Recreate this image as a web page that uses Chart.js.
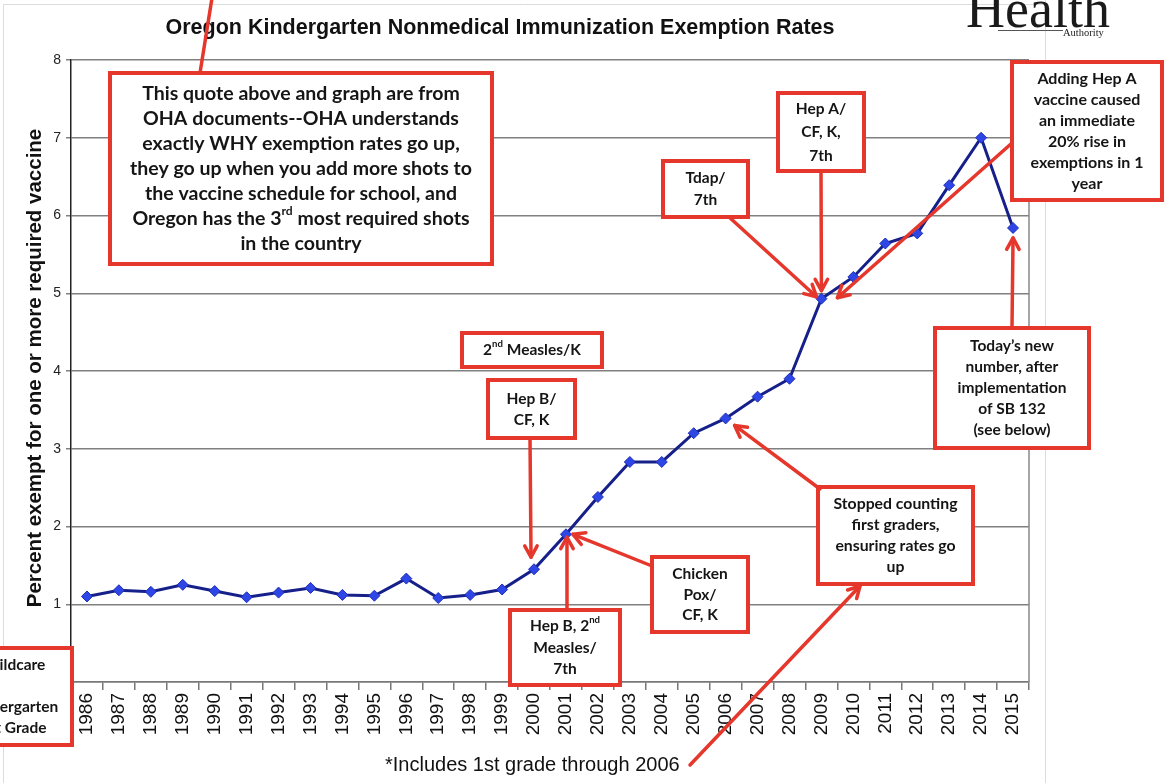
<!DOCTYPE html>
<html>
<head>
<meta charset="utf-8">
<script src="https://cdn.jsdelivr.net/npm/chart.js@4.4.1/dist/chart.umd.min.js"></script>
<style>
  html, body { margin: 0; padding: 0; background: #fff; }
  #wrap { width: 1165px; height: 783px; position: relative; }
</style>
</head>
<body>
<div id="wrap"><canvas id="grafico"></canvas></div>
<script>
// ==========================
// DATA
// ==========================
const years = ['1986', '1987', '1988', '1989', '1990', '1991', '1992', '1993', '1994', '1995',
  '1996', '1997', '1998', '1999', '2000', '2001', '2002', '2003', '2004', '2005',
  '2006', '2007', '2008', '2009', '2010', '2011', '2012', '2013', '2014', '2015'];
const exemptRates = [1.10, 1.18, 1.16, 1.25, 1.17, 1.09, 1.15, 1.21, 1.12, 1.11,
  1.33, 1.08, 1.12, 1.19, 1.45, 1.90, 2.38, 2.83, 2.83, 3.20,
  3.39, 3.67, 3.90, 4.93, 5.21, 5.64, 5.77, 6.39, 7.00, 5.84];
const yTicks = [0, 1, 2, 3, 4, 5, 6, 7, 8];

const chartTitle = 'Oregon Kindergarten Nonmedical Immunization Exemption Rates';
const yTitle = 'Percent exempt for one or more required vaccine';
const footnote = '*Includes 1st grade through 2006';

// annotation boxes (text with {..} = superscript); "at" anchors an arrow tip to a data point
const notes = [
  { lines: ['This quote above and graph are from', 'OHA documents--OHA understands', 'exactly WHY exemption rates go up,',
      'they go up when you add more shots to', 'the vaccine schedule for school, and', 'Oregon has the 3{rd} most required shots', 'in the country'],
    box: [110, 73, 492, 264], size: 19.5, lh: 25, line: { from: [200, 73], to: [212, -2] } },
  { lines: ['Hep A/', 'CF, K,', '7th'], box: [778, 93, 864, 171], size: 15.5, lh: 23.5,
    arrow: { from: [821, 171], at: '2009', dx: 0, dy: -8 } },
  { lines: ['Tdap/', '7th'], box: [663, 161, 748, 217], size: 15.5, lh: 22,
    arrow: { from: [729, 217], at: '2009', dx: -5, dy: -2 } },
  { lines: ['Adding Hep A', 'vaccine caused', 'an immediate', '20% rise in', 'exemptions in 1', 'year'],
    box: [1012, 62, 1162, 200], size: 16, lh: 21, arrow: { from: [1012, 143], at: '2009', dx: 16, dy: -1 } },
  { lines: ['Today\u2019s new', 'number, after', 'implementation', 'of SB 132', '(see below)'],
    box: [935, 328, 1089, 448], size: 15.5, lh: 20.8, arrow: { from: [1012, 328], at: '2015', dx: 0, dy: 10 } },
  { lines: ['Stopped counting', 'first graders,', 'ensuring rates go', 'up'],
    box: [818, 487, 973, 584], size: 15.8, lh: 20.8, arrow: { from: [820, 489], at: '2006', dx: 9, dy: 7 } },
  { lines: ['2{nd} Measles/K'], box: [462, 333, 602, 367], size: 15.5, lh: 20 },
  { lines: ['Hep B/', 'CF, K'], box: [488, 380, 575, 438], size: 15.5, lh: 21,
    arrow: { from: [530, 438], at: '2000', dx: -3, dy: -12 } },
  { lines: ['Hep B, 2{nd}', 'Measles/', '7th'], box: [510, 610, 620, 685], size: 15.5, lh: 21.5,
    arrow: { from: [567, 610], at: '2001', dx: 1, dy: 3 } },
  { lines: ['Chicken', 'Pox/', 'CF, K'], box: [652, 557, 748, 632], size: 15.5, lh: 20.8,
    arrow: { from: [652, 566], at: '2001', dx: 7, dy: 0 } },
  { lines: ['Childcare', '', 'Kindergarten', '1st Grade'], box: [-10, 648, 72, 745], size: 15.5, lh: 21, cx: 13 }
];

const RED = '#e5372b';
const boxFont = '"Lato", "Open Sans", sans-serif';

function richWidth(ctx, txt, size) {
  let w = 0;
  txt.split(/(\{[^}]*\})/).forEach(p => {
    if (!p) return;
    const sup = p[0] === '{';
    ctx.font = `bold ${sup ? size * 0.62 : size}px ${boxFont}`;
    w += ctx.measureText(sup ? p.slice(1, -1) : p).width;
  });
  return w;
}

function drawRich(ctx, txt, cx, y, size) {
  let x = cx - richWidth(ctx, txt, size) / 2;
  ctx.textAlign = 'left';
  txt.split(/(\{[^}]*\})/).forEach(p => {
    if (!p) return;
    const sup = p[0] === '{';
    const t = sup ? p.slice(1, -1) : p;
    ctx.font = `bold ${sup ? size * 0.62 : size}px ${boxFont}`;
    ctx.fillText(t, x, sup ? y - size * 0.4 : y);
    x += ctx.measureText(t).width;
  });
}

function drawArrow(ctx, x1, y1, x2, y2) {
  ctx.beginPath();
  ctx.moveTo(x1, y1);
  ctx.lineTo(x2, y2);
  ctx.stroke();
  const ang = Math.atan2(y2 - y1, x2 - x1);
  const L = 13;
  ctx.beginPath();
  ctx.moveTo(x2 - L * Math.cos(ang - 0.5), y2 - L * Math.sin(ang - 0.5));
  ctx.lineTo(x2, y2);
  ctx.lineTo(x2 - L * Math.cos(ang + 0.5), y2 - L * Math.sin(ang + 0.5));
  ctx.stroke();
}

const decoracao = {
  id: 'decoracao',
  beforeDraw(chart) {
    const ctx = chart.ctx;
    ctx.save();
    ctx.fillStyle = '#fff';
    ctx.fillRect(0, 0, chart.width, chart.height);
    // page frame
    ctx.strokeStyle = '#dcdcdc';
    ctx.lineWidth = 1;
    ctx.beginPath();
    ctx.moveTo(3.5, 783); ctx.lineTo(3.5, 4.5); ctx.lineTo(1045.5, 4.5);
    ctx.moveTo(1045.5, 0); ctx.lineTo(1045.5, 783);
    ctx.stroke();
    // logo
    ctx.fillStyle = '#1a1a1a';
    ctx.font = '54px "Liberation Serif", serif';
    ctx.textAlign = 'right';
    ctx.textBaseline = 'alphabetic';
    ctx.fillText('Health', 1110, 27);
    ctx.font = '10.5px "Liberation Serif", serif';
    ctx.textAlign = 'left';
    ctx.fillText('Authority', 1063, 36);
    ctx.strokeStyle = '#555';
    ctx.beginPath(); ctx.moveTo(998, 30.5); ctx.lineTo(1063, 30.5); ctx.stroke();
    // title
    ctx.fillStyle = '#111';
    ctx.font = 'bold 21.5px "Liberation Sans", Arial, sans-serif';
    ctx.textAlign = 'center';
    ctx.textBaseline = 'middle';
    ctx.fillText(chartTitle, 500, 28);
    // y title
    ctx.save();
    ctx.translate(35, 368);
    ctx.rotate(-Math.PI / 2);
    ctx.font = 'bold 20.5px "Liberation Sans", Arial, sans-serif';
    ctx.fillText(yTitle, 0, 0);
    ctx.restore();
    // footnote
    ctx.font = '20px "Liberation Sans", Arial, sans-serif';
    ctx.textAlign = 'left';
    ctx.fillText(footnote, 385, 765);
    ctx.restore();
  },
  beforeDatasetsDraw(chart) {
    const ctx = chart.ctx;
    const a = chart.chartArea;
    ctx.save();
    ctx.strokeStyle = '#888';
    ctx.lineWidth = 1.5;
    ctx.beginPath();
    ctx.moveTo(a.right, a.top);
    ctx.lineTo(a.right, a.bottom);
    ctx.stroke();
    ctx.restore();
  },
  afterDraw(chart) {
    const ctx = chart.ctx;
    const xs = chart.scales.x, ys = chart.scales.y;
    ctx.save();
    ctx.lineCap = 'round';
    ctx.lineJoin = 'round';
    notes.forEach(n => {
      const [x1, y1, x2, y2] = n.box;
      ctx.fillStyle = '#fff';
      ctx.fillRect(x1, y1, x2 - x1, y2 - y1);
      ctx.strokeStyle = RED;
      ctx.lineWidth = 4;
      ctx.lineJoin = 'miter';
      ctx.strokeRect(x1, y1, x2 - x1, y2 - y1);
      ctx.lineJoin = 'round';
      ctx.fillStyle = '#151515';
      ctx.textBaseline = 'middle';
      const cx = n.cx !== undefined ? n.cx : (x1 + x2) / 2;
      const top = (y1 + y2) / 2 - (n.lines.length - 1) * n.lh / 2;
      n.lines.forEach((l, i) => drawRich(ctx, l, cx, top + i * n.lh, n.size));
      ctx.lineWidth = 3.5;
      if (n.arrow) {
        const i = years.indexOf(n.arrow.at);
        const tx = xs.getPixelForValue(i) + n.arrow.dx;
        const ty = ys.getPixelForValue(exemptRates[i]) + n.arrow.dy;
        drawArrow(ctx, n.arrow.from[0], n.arrow.from[1], tx, ty);
      }
      if (n.line) {
        ctx.beginPath();
        ctx.moveTo(n.line.from[0], n.line.from[1]);
        ctx.lineTo(n.line.to[0], n.line.to[1]);
        ctx.stroke();
      }
    });
    // footnote arrow up to the "Stopped counting" box
    ctx.lineWidth = 3.5;
    drawArrow(ctx, 690, 765, 860, 586);
    ctx.restore();
  }
};

const ctx = document.getElementById('grafico').getContext('2d');
new Chart(ctx, {
  type: 'line',
  data: {
    labels: years,
    datasets: [{
      label: 'Exemption rate',
      data: exemptRates,
      borderColor: '#16208a',
      borderWidth: 3,
      pointStyle: 'rectRot',
      pointRadius: 5.5,
      pointBackgroundColor: '#2f46e6',
      pointBorderColor: '#1f2fb8',
      pointBorderWidth: 1,
      tension: 0
    }]
  },
  options: {
    responsive: true,
    maintainAspectRatio: false,
    animation: false,
    devicePixelRatio: 1,
    layout: { padding: { left: 0, top: 60, right: 136, bottom: 0 } },
    plugins: { legend: { display: false }, title: { display: false }, tooltip: { enabled: false } },
    scales: {
      x: {
        offset: true,
        afterFit(s) { s.height = 101; },
        ticks: {
          autoSkip: false, minRotation: 90, maxRotation: 90, padding: 3,
          color: '#111', font: { family: '"Liberation Sans", Arial, sans-serif', size: 19 }
        },
        grid: { offset: true, drawOnChartArea: false, tickLength: 8, color: '#777', lineWidth: 1.5 },
        border: { color: '#777', width: 1.5 }
      },
      y: {
        min: 0, max: 8,
        afterFit(s) { s.width = 71; },
        afterBuildTicks(s) { s.ticks = yTicks.map(v => ({ value: v })); },
        ticks: {
          padding: 5, color: '#222',
          font: { family: '"Liberation Sans", Arial, sans-serif', size: 14 }
        },
        grid: { color: '#808080', lineWidth: 1.5, tickLength: 5 },
        border: { color: '#222', width: 1.5 }
      }
    }
  },
  plugins: [decoracao]
});
</script>
</body>
</html>
